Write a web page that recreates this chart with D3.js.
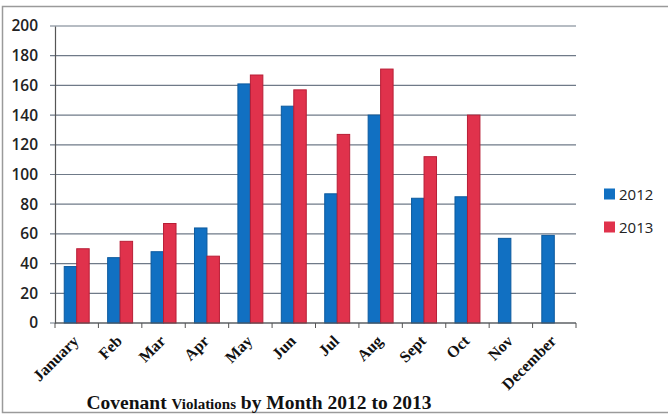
<!DOCTYPE html>
<html>
<head>
<meta charset="utf-8">
<script src="https://cdn.jsdelivr.net/npm/d3@7"></script>
<style>
  body { margin: 0; background: #fff; }
  svg { display: block; }
</style>
</head>
<body>
<svg id="chart" width="668" height="416"></svg>
<script>
var months = ["January", "Feb", "Mar", "Apr", "May", "Jun", "Jul", "Aug", "Sept", "Oct", "Nov", "December"];
var years = ["2012", "2013"];
var values2012 = [38, 44, 48, 64, 161, 146, 87, 140, 84, 85, 57, 59];
var values2013 = [50, 55, 67, 45, 167, 157, 127, 171, 112, 140, null, null];
var yTicks = [0, 20, 40, 60, 80, 100, 120, 140, 160, 180, 200];
var colors = ["#1170c2", "#e0324c"];
var edgeColors = ["#0c5a9e", "#b81e36"];

(function () {
    let svg = d3.select("#chart");
    let pLeft = 55, pRight = 576, pTop = 26, pBottom = 323;

    // frame
    svg.append("rect")
        .attr("x", 2.5).attr("y", 6.5)
        .attr("width", 700).attr("height", 406)
        .attr("fill", "none").attr("stroke", "#9a9a9a").attr("stroke-width", 1.5);

    let x = d3.scaleBand().domain(months).range([pLeft, pRight]);
    let xSub = d3.scaleBand().domain(years).range([0, x.bandwidth()]).paddingOuter(0.74);
    let y = d3.scaleLinear().domain([0, 200]).range([pBottom, pTop]);

    // gridlines
    svg.append("g").selectAll("line").data(yTicks).enter().append("line")
        .attr("x1", pLeft - 5).attr("x2", pRight)
        .attr("y1", d => y(d)).attr("y2", d => y(d))
        .attr("stroke", "#6f7a88").attr("stroke-width", 1.2);

    // y axis
    let yAxis = svg.append("g").attr("transform", "translate(" + pLeft + ",0)")
        .call(d3.axisLeft(y).tickValues(yTicks).tickSize(0).tickPadding(17));
    yAxis.select(".domain").attr("stroke", "#555").attr("stroke-width", 1.2);
    yAxis.selectAll("text")
        .attr("font-family", "'Open Sans', sans-serif")
        .attr("font-size", 15.5).attr("font-weight", 600).attr("fill", "#222");

    // bars
    let series = [values2012, values2013];
    let groups = svg.append("g").selectAll("g").data(months).enter().append("g")
        .attr("transform", d => "translate(" + x(d) + ",0)");
    groups.each(function (m, i) {
        let _g = d3.select(this);
        years.forEach((yr, k) => {
            let v = series[k][i];
            if (v == null) return;
            _g.append("rect")
                .attr("x", xSub(yr)).attr("y", y(v))
                .attr("width", xSub.bandwidth()).attr("height", y(0) - y(v))
                .attr("fill", colors[k]).attr("stroke", edgeColors[k]).attr("stroke-width", 1);
        });
    });

    // x axis
    let xAxis = svg.append("g").attr("transform", "translate(0," + pBottom + ")");
    xAxis.append("line").attr("x1", pLeft).attr("x2", pRight).attr("y1", 0).attr("y2", 0)
        .attr("stroke", "#555").attr("stroke-width", 1.2);
    xAxis.selectAll(".tick").data(months.concat(["end"])).enter().append("line")
        .attr("x1", (d, i) => pLeft + i * x.step()).attr("x2", (d, i) => pLeft + i * x.step())
        .attr("y1", 0).attr("y2", 5).attr("stroke", "#555");
    xAxis.selectAll(".lbl").data(months).enter().append("text")
        .attr("transform", d => "translate(" + (x(d) + x.bandwidth() / 2 + 3) + ",19) rotate(-45)")
        .attr("text-anchor", "end")
        .attr("font-family", "'Liberation Serif', serif")
        .attr("font-weight", "bold").attr("font-size", 16).attr("fill", "#111")
        .text(d => d);

    // legend
    let legend = svg.append("g").selectAll("g").data(years).enter().append("g")
        .attr("transform", (d, i) => "translate(604," + (194 + i * 33) + ")");
    legend.append("rect").attr("x", 0).attr("y", -5.5).attr("width", 11).attr("height", 11)
        .attr("fill", (d, i) => colors[i]);
    legend.append("text").attr("x", 15).attr("y", 5.5)
        .attr("font-family", "'Open Sans', sans-serif").attr("font-size", 15).attr("fill", "#222")
        .text(d => d);

    // title
    let title = svg.append("text").attr("x", 259).attr("y", 409).attr("text-anchor", "middle")
        .attr("font-family", "'Liberation Serif', serif").attr("font-weight", "bold")
        .attr("font-size", 19.5).attr("fill", "#111");
    title.append("tspan").text("Covenant ");
    title.append("tspan").attr("font-size", 15).text("Violations");
    title.append("tspan").text(" by Month 2012 to 2013");
})();
</script>
</body>
</html>
